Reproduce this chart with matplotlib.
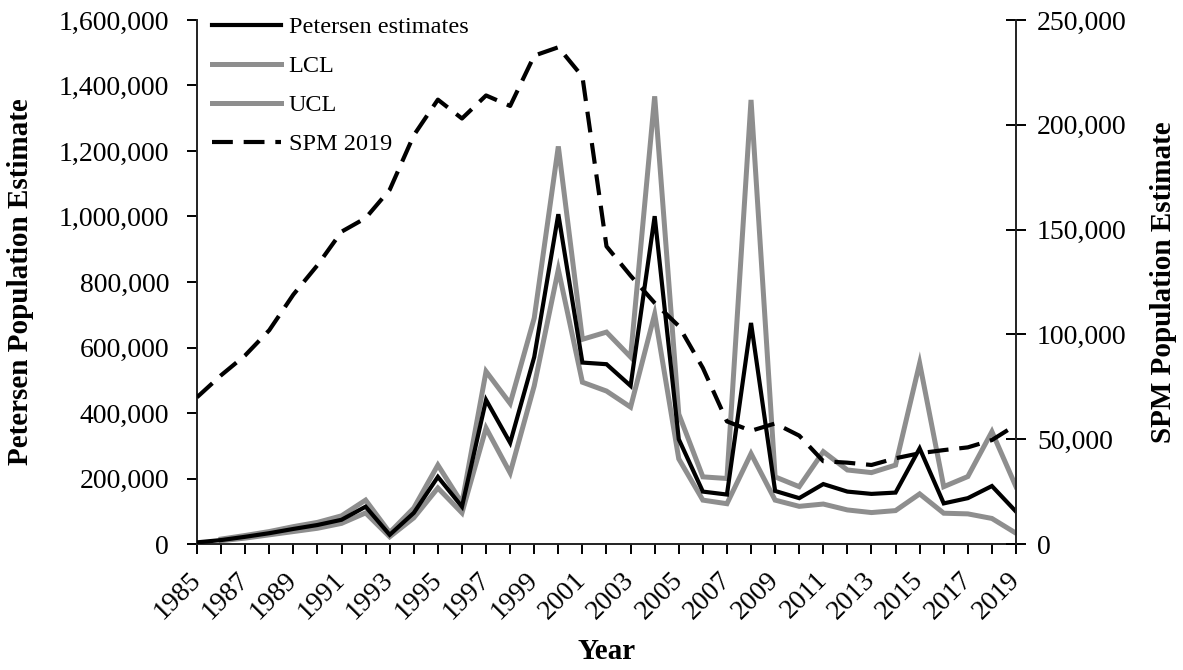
import numpy as np
import matplotlib
matplotlib.use("Agg")
import matplotlib.pyplot as plt
from matplotlib.ticker import FuncFormatter, MultipleLocator

years = list(range(1985, 2020))
petersen = [5000, 12000, 22000, 33000, 46000, 58000, 74000, 114000, 28000, 95000,
            205000, 114000, 440000, 309000, 571000, 1007000, 554000, 549000, 483000, 1001000,
            320000, 160000, 151000, 675000, 162000, 140000, 183000, 160000, 153000, 157000,
            292000, 124000, 140000, 177000, 99000]
lcl = [np.nan, 10000, 18000, 28000, 38000, 48000, 63000, 95000, 22000, 80000,
       171000, 95000, 354000, 217000, 483000, 838000, 494000, 467000, 418000, 702000,
       260000, 134000, 123000, 276000, 134000, 115000, 122000, 104000, 96000, 102000,
       153000, 94000, 92000, 78000, 33000]
ucl = [np.nan, 15000, 26000, 38000, 53000, 66000, 86000, 134000, 35000, 110000,
       241000, 125000, 527000, 429000, 690000, 1214000, 625000, 647000, 571000, 1367000,
       397000, 205000, 200000, 1356000, 205000, 175000, 282000, 226000, 218000, 241000,
       552000, 175000, 206000, 343000, 175000]
spm = [70000, 80500, 90000, 102000, 119000, 133000, 149000, 155500, 169000, 195000,
       212000, 203000, 214000, 209000, 233000, 237000, 223000, 142000, 128000, 115000,
       104000, 84000, 58500, 54000, 57500, 51700, 39500, 38800, 37700, 40900,
       43300, 44800, 46100, 49600, 56800]
series_labels = ["Petersen estimates", "LCL", "UCL", "SPM 2019"]

plt.rcParams['font.family'] = ['Liberation Serif', 'DejaVu Serif']
GRAY = '#8e8e8e'
W, H = 1183, 670
fig = plt.figure(figsize=(W / 100, H / 100), dpi=100)
ax = fig.add_axes([197 / W, 1 - 544 / H, (1016 - 197) / W, (544 - 20) / H])
ax2 = ax.twinx()

l_lcl, = ax.plot(years, lcl, color=GRAY, lw=3.6, zorder=2, solid_joinstyle='miter')
l_ucl, = ax.plot(years, ucl, color=GRAY, lw=3.6, zorder=2, solid_joinstyle='miter')
l_pet, = ax.plot(years, petersen, color='black', lw=3.0, zorder=3, solid_joinstyle='miter')
l_spm, = ax2.plot(years, spm, color='black', lw=3.0, ls=(0, (5, 2.6)), zorder=3)

ax.set_xlim(1985, 2019)
ax.set_ylim(0, 1600000)
ax2.set_ylim(0, 250000)

ax.yaxis.set_major_locator(MultipleLocator(200000))
ax2.yaxis.set_major_locator(MultipleLocator(50000))
fmt = FuncFormatter(lambda v, p: f"{int(round(v)):,}")
ax.yaxis.set_major_formatter(fmt)
ax2.yaxis.set_major_formatter(fmt)

ax.set_xticks(years)
ax.set_xticklabels([str(y) if (y - 1985) % 2 == 0 else '' for y in years],
                   rotation=45, ha='right', va='center', rotation_mode='anchor')

for a in (ax, ax2):
    for s in a.spines.values():
        s.set_linewidth(1.4)
        s.set_color('#222222')
ax.spines['top'].set_visible(False)
ax.spines['right'].set_visible(False)
ax2.spines['top'].set_visible(False)
ax2.spines['left'].set_visible(False)
ax2.spines['bottom'].set_visible(False)

ax.tick_params(axis='y', direction='out', length=7, width=1.4, labelsize=20, pad=13)
ax.tick_params(axis='x', direction='out', length=7, width=1.4, labelsize=20, pad=16)
ax2.tick_params(axis='y', direction='inout', length=14, width=1.4, labelsize=20, pad=8)

AXW, AXH = 819, 524
ax.set_xlabel("Year", fontsize=21, fontweight='bold')
ax.set_ylabel("Petersen Population Estimate", fontsize=21, fontweight='bold')
ax2.set_ylabel("SPM Population Estimate", fontsize=21, fontweight='bold')
ax.yaxis.set_label_coords(-(197 - 34) / AXW, 0.5)
ax2.yaxis.set_label_coords(1 + (1150 - 1016) / AXW, 0.5)
ax.xaxis.set_label_coords(0.5, -(638 - 544) / AXH)

leg = ax2.legend([l_pet, l_lcl, l_ucl, l_spm], series_labels, loc='upper left',
                 bbox_to_anchor=(15 / AXW, 1 + 4 / AXH), frameon=False, fontsize=17.5,
                 handlelength=2.85, handletextpad=0.3, borderpad=0, borderaxespad=0,
                 labelspacing=0.70)

fig.savefig("out.png", dpi=100)
